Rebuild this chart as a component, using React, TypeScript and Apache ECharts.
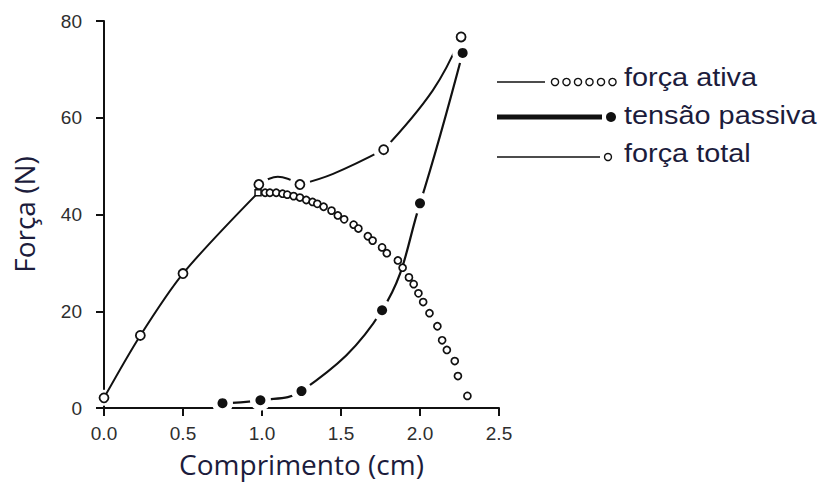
import React, { useEffect, useRef } from "react";
import * as echarts from "echarts";

// Comprimento (cm) ticks and Força (N) ticks
const xTicks = [0, 0.5, 1.0, 1.5, 2.0, 2.5];
const yTicks = [0, 20, 40, 60, 80];

// força total: measured points (open circles)
const totalX = [0, 0.23, 0.5, 0.98, 1.24, 1.77, 2.26];
const totalY = [2.1, 15.0, 27.8, 46.2, 46.2, 53.4, 76.7];
// força total: traced curve pieces between the circles
const totalSeg1X = [0.98, 1.1, 1.24];
const totalSeg1Y = [46.2, 47.8, 46.2];
const totalSeg2X = [1.24, 1.45, 1.77];
const totalSeg2Y = [46.2, 48.4, 53.4];
const totalSeg3X = [1.77, 2.08, 2.26];
const totalSeg3Y = [53.4, 65.6, 76.7];

// força ativa: ascending limb (line) and descending limb (small circles)
const activeRiseX = [0, 0.23, 0.5, 0.975];
const activeRiseY = [2.1, 15.0, 27.8, 44.5];
const activeX = [1.02, 1.05, 1.09, 1.13, 1.16, 1.2, 1.24, 1.28, 1.32, 1.35, 1.39, 1.44, 1.48, 1.52, 1.58, 1.61, 1.67, 1.7, 1.76, 1.79, 1.86, 1.89, 1.93, 1.96, 1.99, 2.02, 2.06, 2.11, 2.14, 2.17, 2.22, 2.24, 2.3];
const activeY = [44.5, 44.5, 44.5, 44.3, 44.1, 43.8, 43.5, 43.0, 42.6, 42.2, 41.6, 40.8, 39.8, 39.0, 37.9, 37.1, 35.5, 34.6, 33.2, 32.0, 30.5, 29.0, 27.0, 25.6, 23.7, 21.9, 19.6, 16.9, 14.0, 12.0, 9.7, 6.6, 2.5];

// tensão passiva (filled circles)
const passiveX = [0.75, 0.99, 1.25, 1.76, 2.0, 2.27];
const passiveY = [1.0, 1.6, 3.5, 20.2, 42.3, 73.4];

const legendLabels = ["força ativa", "tensão passiva", "força total"];

const zip = (xs: number[], ys: number[]) => xs.map((x, i) => [x, ys[i]]);

const INK = "#111";
const TEXT = "#1c1c3c";

const curve = (name: string, xs: number[], ys: number[]) => ({
  name,
  type: "line",
  data: zip(xs, ys),
  smooth: 0.4,
  showSymbol: false,
  lineStyle: { color: INK, width: 2 },
  z: 1,
  silent: true,
});

export default function App() {
  const ref = useRef<HTMLDivElement>(null);
  useEffect(() => {
    if (!ref.current) return;
    const chart = echarts.init(ref.current, undefined, { renderer: "svg" });
    const legendCircles = [0, 1, 2, 3, 4, 5].map((i) => ({
      type: "circle",
      shape: { cx: 555 + i * 11.5, cy: 82, r: 3.6 },
      style: { fill: "#fff", stroke: INK, lineWidth: 1.4 },
    }));
    chart.setOption({
      animation: false,
      backgroundColor: "#fff",
      grid: { left: 104, right: 324, top: 21, bottom: 77, containLabel: false },
      xAxis: {
        type: "value",
        min: xTicks[0],
        max: xTicks[xTicks.length - 1],
        interval: 0.5,
        name: "Comprimento (cm)",
        nameLocation: "middle",
        nameGap: 42,
        nameTextStyle: { fontFamily: "Open Sans", fontSize: 28, color: TEXT },
        axisLine: { onZero: false, lineStyle: { color: INK, width: 2 } },
        axisTick: { length: 8, lineStyle: { color: INK, width: 2 } },
        axisLabel: {
          formatter: (v: number) => v.toFixed(1),
          fontFamily: "Liberation Sans",
          fontSize: 19,
          color: "#2e2e2e",
          margin: 16,
        },
        splitLine: { show: false },
      },
      yAxis: {
        type: "value",
        min: yTicks[0],
        max: yTicks[yTicks.length - 1],
        interval: 20,
        name: "Força (N)",
        nameLocation: "middle",
        nameGap: 66,
        nameTextStyle: { fontFamily: "Open Sans", fontSize: 28, color: TEXT },
        axisLine: { onZero: false, lineStyle: { color: INK, width: 2 } },
        axisTick: { length: 8, lineStyle: { color: INK, width: 2 } },
        axisLabel: {
          fontFamily: "Liberation Sans",
          fontSize: 19,
          color: "#2e2e2e",
          margin: 22,
        },
        splitLine: { show: false },
      },
      series: [
        curve("total-seg1", totalSeg1X, totalSeg1Y),
        curve("total-seg2", totalSeg2X, totalSeg2Y),
        curve("total-seg3", totalSeg3X, totalSeg3Y),
        {
          name: "passive-curve",
          type: "line",
          data: zip(passiveX, passiveY),
          smooth: 0.4,
          showSymbol: false,
          lineStyle: { color: INK, width: 2.2 },
          z: 1,
          silent: true,
        },
        {
          name: "halo",
          type: "scatter",
          data: [...zip(totalX.slice(3), totalY.slice(3)), ...zip(passiveX, passiveY)],
          symbolSize: 21,
          itemStyle: { color: "#fff", opacity: 1 },
          z: 2,
          silent: true,
        },
        {
          name: "halo-small",
          type: "scatter",
          data: zip(totalX.slice(0, 3), totalY.slice(0, 3)),
          symbolSize: 16,
          itemStyle: { color: "#fff", opacity: 1 },
          z: 2,
          silent: true,
        },
        {
          name: "active-rise",
          type: "line",
          data: zip(activeRiseX, activeRiseY),
          smooth: 0.3,
          symbol: "none",
          lineStyle: { color: INK, width: 2 },
          z: 3,
          silent: true,
        },
        {
          name: "active-peak",
          type: "scatter",
          data: [[activeRiseX[3], activeRiseY[3]]],
          symbol: "rect",
          symbolSize: 6,
          itemStyle: { color: "#fff", borderColor: INK, borderWidth: 1.5, opacity: 1 },
          z: 4,
        },
        {
          name: "força ativa",
          type: "scatter",
          data: zip(activeX, activeY),
          symbol: "circle",
          symbolSize: 7,
          itemStyle: { color: "#fff", borderColor: INK, borderWidth: 1.7, opacity: 1 },
          z: 4,
        },
        {
          name: "força total",
          type: "scatter",
          data: zip(totalX, totalY),
          symbol: "circle",
          symbolSize: 9,
          itemStyle: { color: "#fff", borderColor: INK, borderWidth: 1.8, opacity: 1 },
          z: 5,
        },
        {
          name: "tensão passiva",
          type: "scatter",
          data: zip(passiveX, passiveY),
          symbol: "circle",
          symbolSize: 10,
          itemStyle: { color: INK, opacity: 1 },
          z: 5,
        },
      ],
      graphic: [
        { type: "line", shape: { x1: 497, y1: 82, x2: 545, y2: 82 }, style: { stroke: INK, lineWidth: 1.5 } },
        ...legendCircles,
        { type: "line", shape: { x1: 497, y1: 117, x2: 602, y2: 117 }, style: { stroke: INK, lineWidth: 5 } },
        { type: "circle", shape: { cx: 611, cy: 117, r: 5 }, style: { fill: INK } },
        { type: "line", shape: { x1: 497, y1: 157, x2: 600, y2: 157 }, style: { stroke: INK, lineWidth: 1.5 } },
        { type: "circle", shape: { cx: 608, cy: 157, r: 3.5 }, style: { fill: "#fff", stroke: INK, lineWidth: 1.4 } },
        ...legendLabels.map((t, i) => ({
          type: "text",
          x: 624,
          y: [77, 115, 153][i],
          scaleX: 1.11,
          style: {
            text: t,
            fontFamily: "Liberation Sans",
            fontSize: 26,
            fill: TEXT,
            verticalAlign: "middle",
          },
        })),
      ],
    });
    return () => chart.dispose();
  }, []);
  return <div ref={ref} style={{ width: 823, height: 485, position: "absolute", left: 0, top: 0 }} />;
}
